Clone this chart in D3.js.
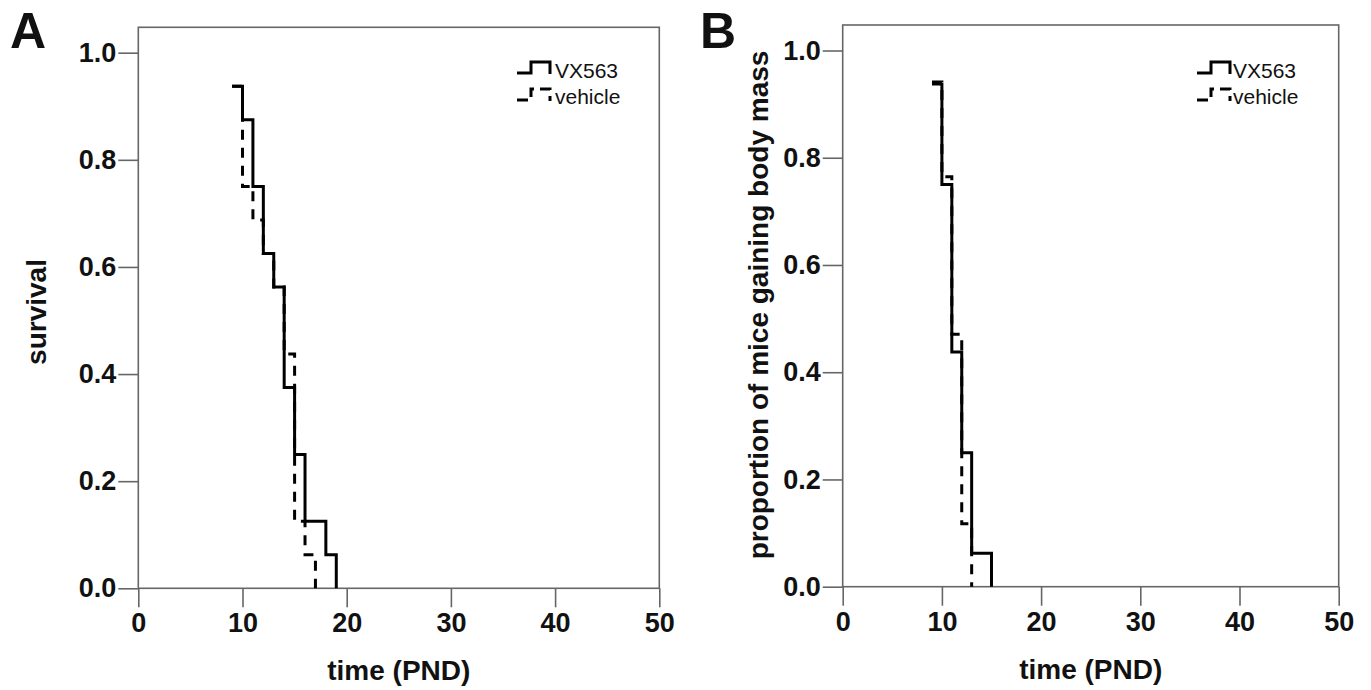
<!DOCTYPE html>
<html>
<head>
<meta charset="utf-8">
<script src="https://cdn.jsdelivr.net/npm/d3@7/dist/d3.min.js"></script>
<style>
  body { margin: 0; background: #fff; }
  text { font-family: "Liberation Sans", Arial, sans-serif; fill: #111; }
</style>
</head>
<body>
<svg width="1371" height="690"></svg>
<script>
// tick labels
var timeTicks = [0, 10, 20, 30, 40, 50];
var propTicks = [0, 0.2, 0.4, 0.6, 0.8, 1.0];

// panel A: survival, step curves (time in PND, proportion)
var survVxTime = [9, 10, 11, 12, 13, 14, 15, 16, 18, 19];
var survVx     = [0.9375, 0.875, 0.75, 0.625, 0.5625, 0.375, 0.25, 0.125, 0.0625, 0];
var survVehTime = [9, 10, 11, 12, 13, 14, 15, 16, 17];
var survVeh     = [0.9375, 0.75, 0.6875, 0.625, 0.5625, 0.4375, 0.125, 0.0625, 0];

// panel B: proportion of mice gaining body mass
var massVxTime = [9, 10, 11, 12, 13, 15];
var massVx     = [0.9375, 0.75, 0.4375, 0.25, 0.0625, 0];
var massVehTime = [9, 10, 11, 12, 13];
var massVeh     = [0.9412, 0.7647, 0.4706, 0.1176, 0];

var seriesNames = ["VX563", "vehicle"];

var svg = d3.select("svg");

function drawPanel(p) {
  var g = svg.append("g");
  var x = d3.scaleLinear().domain([0, 50]).range([p.left, p.right]);
  var y = d3.scaleLinear().domain([0, 1]).range([p.bottom, p.y1]);

  // frame
  g.append("rect")
    .attr("x", p.left).attr("y", p.top)
    .attr("width", p.right - p.left).attr("height", p.bottom - p.top)
    .attr("fill", "none").attr("stroke", "#666").attr("stroke-width", 1.6);

  var xAxis = g.append("g").attr("transform", "translate(0," + p.bottom + ")")
    .call(d3.axisBottom(x).tickValues(timeTicks).tickSize(19).tickPadding(6).tickFormat(d3.format("d")));
  var yAxis = g.append("g").attr("transform", "translate(" + p.left + ",0)")
    .call(d3.axisLeft(y).tickValues(propTicks).tickSize(20).tickPadding(2).tickFormat(d3.format(".1f")));
  [xAxis, yAxis].forEach(function(a) {
    a.select(".domain").remove();
    a.selectAll(".tick line").attr("stroke", "#666").attr("stroke-width", 1.6);
    a.selectAll(".tick text").attr("font-size", 27).attr("font-weight", "bold")
      .attr("fill", "#111").style("font-family", "Liberation Sans, Arial, sans-serif");
  });

  var line = d3.line()
    .x(function(d) { return x(d[0]); })
    .y(function(d) { return y(d[1]); })
    .curve(d3.curveStepAfter);

  g.append("path").datum(d3.zip(p.vxTime, p.vx))
    .attr("d", line).attr("fill", "none").attr("stroke", "#000").attr("stroke-width", 3);
  g.append("path").datum(d3.zip(p.vehTime, p.veh))
    .attr("d", line).attr("fill", "none").attr("stroke", "#000").attr("stroke-width", 3)
    .attr("stroke-dasharray", "10,8");

  // axis titles
  g.append("text")
    .attr("x", (p.left + p.right) / 2).attr("y", p.bottom + 92)
    .attr("text-anchor", "middle").attr("font-size", 28).attr("font-weight", "bold")
    .text("time (PND)");
  g.append("text")
    .attr("transform", "translate(" + p.yTitleX + "," + p.yTitleY + ") rotate(-90)")
    .attr("text-anchor", "middle").attr("font-size", 28).attr("font-weight", "bold")
    .text(p.yTitle);

  // panel letter
  g.append("text").attr("x", p.letterX).attr("y", 48)
    .attr("font-size", 50).attr("font-weight", "bold").text(p.letter);

  // legend
  var lg = g.append("g").attr("transform", "translate(" + p.legX + ",0)");
  var sym = "M0,0 H14 V-11 H33 V1";
  lg.append("path").attr("d", sym).attr("transform", "translate(0,73)")
    .attr("fill", "none").attr("stroke", "#000").attr("stroke-width", 3);
  lg.append("path").attr("d", sym).attr("transform", "translate(0,100)")
    .attr("fill", "none").attr("stroke", "#000").attr("stroke-width", 3)
    .attr("stroke-dasharray", "11,6");
  lg.selectAll("text.leg").data(seriesNames).enter().append("text")
    .attr("class", "leg")
    .attr("x", p.legTextDx).attr("y", function(d, i) { return 78 + i * 26; })
    .attr("font-size", 21).text(function(d) { return d; });
}

drawPanel({
  left: 138.3, right: 659.3, top: 27.3, bottom: 588.3, y1: 52.7,
  vxTime: survVxTime, vx: survVx, vehTime: survVehTime, veh: survVeh,
  yTitle: "survival", yTitleX: 46, yTitleY: 312,
  letter: "A", letterX: 10, legX: 517, legTextDx: 38
});
drawPanel({
  left: 842.7, right: 1338.7, top: 25, bottom: 586.7, y1: 50.5,
  vxTime: massVxTime, vx: massVx, vehTime: massVehTime, veh: massVeh,
  yTitle: "proportion of mice gaining body mass", yTitleX: 768, yTitleY: 305,
  letter: "B", letterX: 700, legX: 1197, legTextDx: 36
});
</script>
</body>
</html>
